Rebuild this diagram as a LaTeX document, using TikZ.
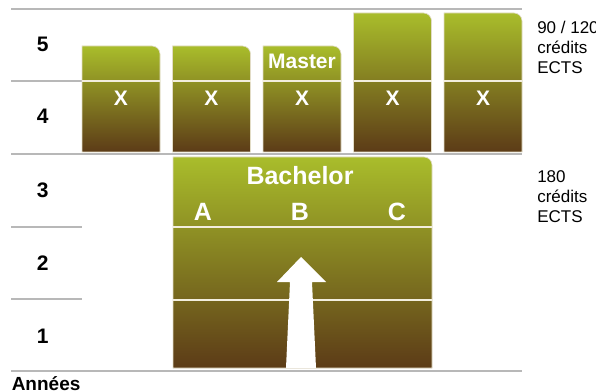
\documentclass[tikz,border=0pt]{standalone}
\usepackage{fontspec}
\setmainfont{Liberation Sans}
\definecolor{gtop}{HTML}{A9BD2B}
\definecolor{gbot}{HTML}{5C3B17}
\definecolor{rulegray}{HTML}{B8B8B8}
\definecolor{boxedge}{HTML}{E2DCC6}
\definecolor{sepcol}{HTML}{F2EEDD}
\newcommand\gradbox[4]{%
  \shade[top color=gtop, bottom color=gbot, draw=boxedge, line width=0.5pt]
    (#1,#4) -- (#1,#2) -- ({#3-8},#2) .. controls ({#3-3.6},#2) and (#3,{#2+3.6}) .. (#3,{#2+8}) -- (#3,#4) -- cycle;}
\begin{document}
\begin{tikzpicture}[x=0.75pt,y=-0.75pt,
  rulel/.style={draw=rulegray, line width=1.1pt},
  sepline/.style={draw=sepcol, line width=0.8pt},
  yearlab/.style={font=\bfseries\fontsize{15.75}{18}\selectfont, anchor=base, inner sep=0pt},
  wlab/.style={font=\bfseries\fontsize{15.75}{18}\selectfont, anchor=base, inner sep=0pt, text=white},
  blab/.style={font=\bfseries\fontsize{18.75}{22}\selectfont, anchor=base, inner sep=0pt, text=white},
  note/.style={font=\fontsize{12.75}{15}\selectfont, align=left, anchor=north west, inner sep=0pt}]
\useasboundingbox (0,0) rectangle (596,392);
% grey rules
\draw[rulel] (11,9) -- (522,9);
\draw[rulel] (11,81) -- (82,81);
\draw[rulel] (11,154) -- (522,154);
\draw[rulel] (11,227) -- (82,227);
\draw[rulel] (11,299) -- (82,299);
\draw[rulel] (11,371) -- (522,371);
% upper boxes
\gradbox{82}{46}{160}{152}
\gradbox{172.5}{46}{250.5}{152}
\gradbox{263}{46}{341}{152}
\gradbox{353.5}{13}{431.5}{152}
\gradbox{444}{13}{522}{152}
\foreach \x in {82,172.5,263,353.5,444}{
  \draw[sepline] (\x,81) -- ({\x+78},81);
}
% bachelor box
\gradbox{173}{157}{432}{368}
\draw[sepline] (173,227) -- (432,227);
\draw[sepline] (173,300) -- (432,300);
% arrow
\fill[white] (301,257) -- (326,282) -- (312,282) -- (316,368) -- (286,368) -- (290,282) -- (277,282) -- cycle;
% texts
\node[wlab] (x1) at (121,106) {X};
\node[wlab] (x2) at (211.5,106) {X};
\node[wlab] (x3) at (302,106) {X};
\node[wlab] (x4) at (392.5,106) {X};
\node[wlab] (x5) at (483,106) {X};
\node[wlab] (master) at (302,69) {Master};
\node[blab] (bachelor) at (300,185) {Bachelor};
\node[blab] (pa) at (203,220) {A};
\node[blab] (pb) at (300,220) {B};
\node[blab] (pc) at (397,220) {C};
\node[yearlab] (y5) at (42.7,51.7) {5};
\node[yearlab] (y4) at (42.7,124) {4};
\node[yearlab] (y3) at (42.7,198) {3};
\node[yearlab] (y2) at (42.7,270.5) {2};
\node[yearlab] (y1) at (42.7,343) {1};
\node[font=\bfseries\fontsize{14.25}{17}\selectfont, anchor=base west, inner sep=0pt] (annees) at (11.5,390) {Années};
\node[note] (ects1) at (537,20.5) {90 / 120\\crédits\\ECTS};
\node[note] (ects2) at (537,170.5) {180\\crédits\\ECTS};
\end{tikzpicture}
\end{document}
